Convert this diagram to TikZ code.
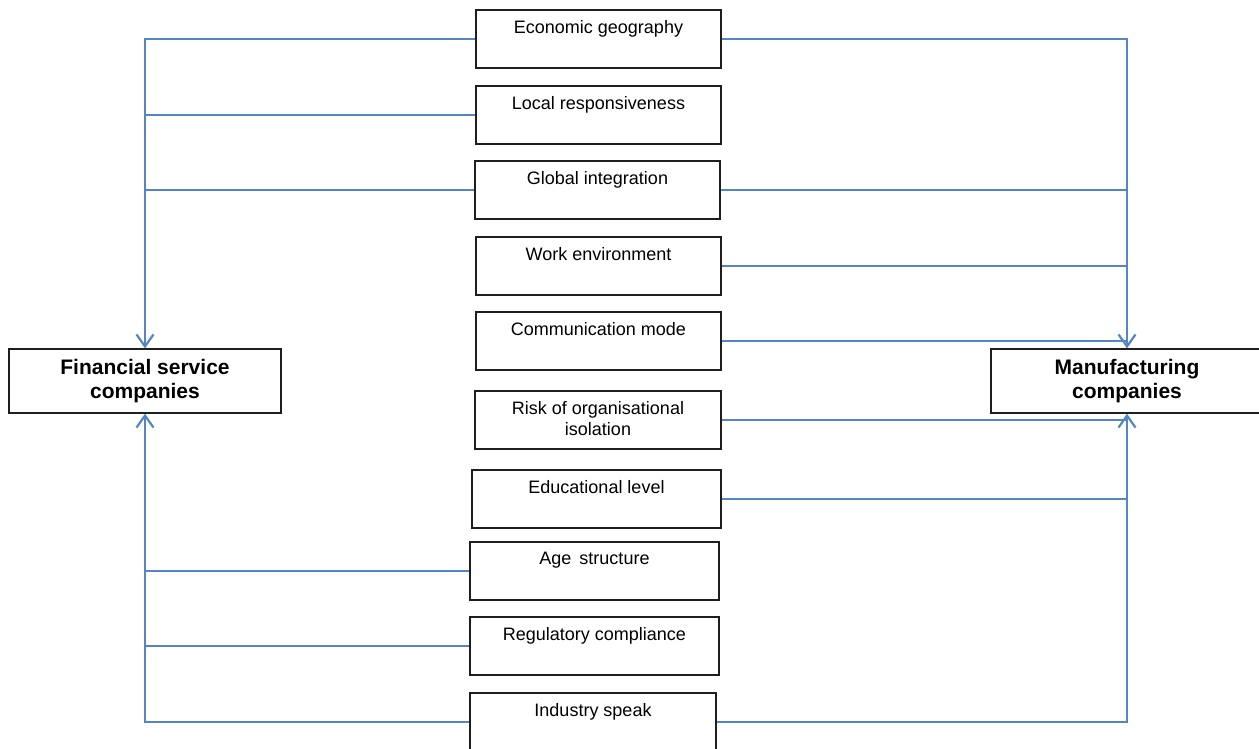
\documentclass[tikz,border=0pt]{standalone}
\usepackage{fontspec}
\setmainfont{Liberation Sans}
\usetikzlibrary{arrows.meta}
\definecolor{conn}{RGB}{84,133,196}
\definecolor{boxline}{RGB}{30,30,30}
\tikzset{
  fbox/.style={draw=boxline, line width=1.3pt, fill=white, minimum width=245pt, minimum height=58pt, inner sep=0pt},
  lbl/.style={anchor=north, yshift=-10.5pt, inner sep=0pt, align=center, font=\fontsize{18}{21}\selectfont},
  mainbox/.style={draw=boxline, line width=1.3pt, fill=white, minimum height=64pt, inner sep=0pt, align=center, font=\fontsize{21}{24}\selectfont\bfseries},
  link/.style={draw=conn, line width=1.6pt},
  arr/.style={link, -{Straight Barb[length=12pt,width=17pt,line width=2.2pt]}}
}
\begin{document}
\begin{tikzpicture}[x=1pt,y=-1pt]
\useasboundingbox (0,0) rectangle (1259,749);
% main boxes
\node[mainbox, minimum width=272pt] (fs) at (145,381) {Financial service\\companies};
\node[mainbox, minimum width=272pt] (mc) at (1127,381) {Manufacturing\\companies};
% factor boxes
\node[fbox, label={[lbl,name=t1]north:Economic geography}] (eg) at (598.5,39) {};
\node[fbox, label={[lbl,name=t2]north:Local responsiveness}] (lr) at (598.5,115) {};
\node[fbox, label={[lbl,name=t3]north:Global integration}] (gi) at (597.5,190) {};
\node[fbox, label={[lbl,name=t4]north:Work environment}] (we) at (598.5,266) {};
\node[fbox, label={[lbl,name=t5]north:Communication mode}] (cm) at (598.5,341) {};
\node[fbox, minimum width=246pt, label={[lbl,name=t6]north:Risk of organisational\\isolation}] (ri) at (598,420) {};
\node[fbox, minimum width=249pt, label={[lbl,name=t7]north:Educational level}] (el) at (596.5,499) {};
\node[fbox, minimum width=249pt, label={[lbl,name=t8]north:Age\, structure}] (as) at (594.5,571) {};
\node[fbox, minimum width=249pt, label={[lbl,name=t9]north:Regulatory compliance}] (rc) at (594.5,646) {};
\node[fbox, minimum width=246pt, label={[lbl,name=t10]north:Industry speak}] (is) at (593,722) {};
% left connectors
\draw[arr] (eg.west) -| (fs.north);
\draw[link] (lr.west) -- (lr.west -| fs.north);
\draw[link] (gi.west) -- (gi.west -| fs.north);
\draw[arr] (is.west) -| (fs.south);
\draw[link] (as.west) -- (as.west -| fs.south);
\draw[link] (rc.west) -- (rc.west -| fs.south);
% right connectors
\draw[arr] (eg.east) -| (mc.north);
\draw[link] (gi.east) -- (gi.east -| mc.north);
\draw[link] (we.east) -- (we.east -| mc.north);
\draw[link] (cm.east) -- (cm.east -| mc.north);
\draw[arr] (is.east) -| (mc.south);
\draw[link] (ri.east) -- (ri.east -| mc.south);
\draw[link] (el.east) -- (el.east -| mc.south);
\end{tikzpicture}
\end{document}
